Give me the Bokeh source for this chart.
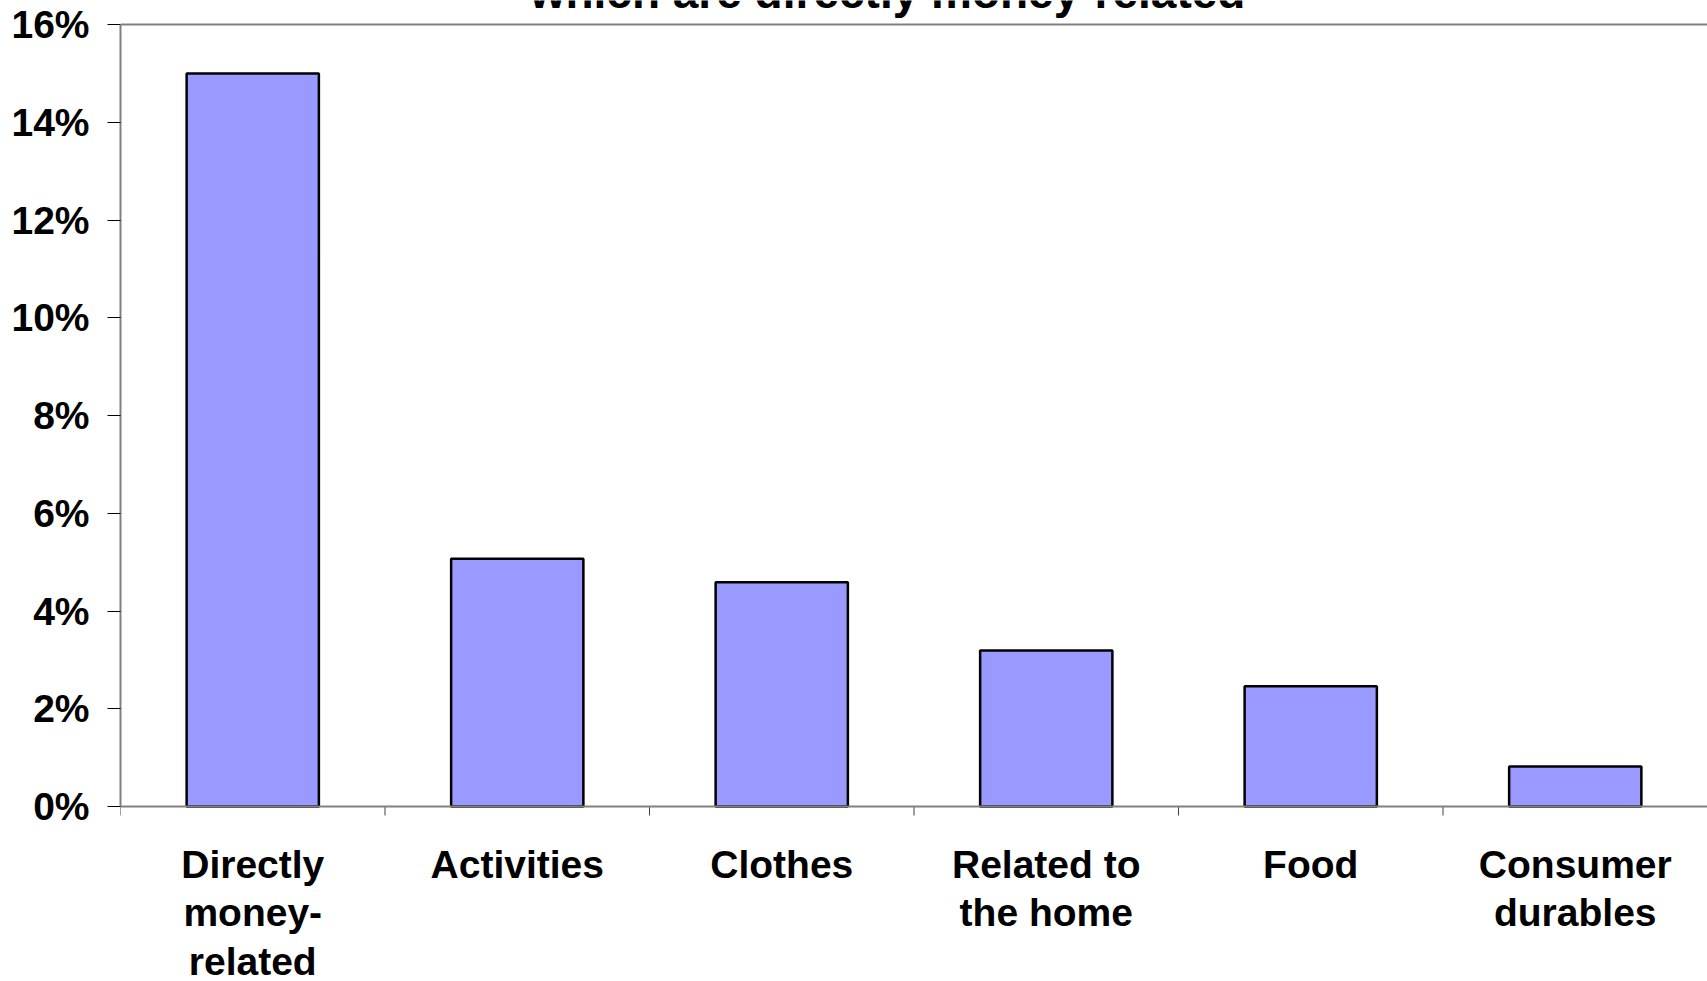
from bokeh.plotting import figure
from bokeh.models import (ColumnDataSource, LinearAxis, FixedTicker,
                          PrintfTickFormatter, Span, Range1d)
from bokeh.core.properties import value
from bokeh.embed import file_html
from bokeh.resources import INLINE

categories = ["Directly money-related", "Activities", "Clothes", "Related to the home",
              "Food", "Consumer durables"]
tick_labels = ["Directly\nmoney-\nrelated", "Activities", "Clothes", "Related to\nthe home",
               "Food", "Consumer\ndurables"]
values = [15.0, 5.07, 4.59, 3.19, 2.46, 0.82]
y_ticks = [0, 2, 4, 6, 8, 10, 12, 14, 16]
title_text = "which are directly money-related"

FONT = "Liberation Sans"
FS = "39px"

W, H = 1707, 981
LEFT = 120
FRAME_TOP_PX = 24       # page y of the 16% line
FRAME_BOTTOM_PX = 806   # page y of the 0% line
PX = (FRAME_BOTTOM_PX - FRAME_TOP_PX) / 16.0   # pixels per 1%
y_start = -(H - FRAME_BOTTOM_PX) / PX
y_end = 16 + FRAME_TOP_PX / PX

source = ColumnDataSource(data=dict(cat=categories, val=values))

p = figure(x_range=categories, y_range=Range1d(y_start, y_end), width=W, height=H,
           output_backend="svg", toolbar_location=None, x_axis_type=None, y_axis_type=None,
           min_border_left=LEFT, min_border_right=0, min_border_top=0, min_border_bottom=0)
p.outline_line_color = None
p.background_fill_color = "white"
p.border_fill_color = "white"

p.ygrid.ticker = FixedTicker(ticks=y_ticks[1:-1])
p.ygrid.grid_line_color = "black"
p.ygrid.grid_line_width = 1
p.xgrid.grid_line_color = None

p.vbar(x="cat", top="val", width=0.5, source=source, fill_color="#9999FF",
       line_color="black", line_width=2.5)

# y axis (line only between 0% and 16%)
yaxis = LinearAxis(ticker=FixedTicker(ticks=y_ticks), formatter=PrintfTickFormatter(format="%d%%"),
                   bounds=(y_ticks[0], y_ticks[-1]))
yaxis.axis_line_color = "#808080"
yaxis.axis_line_width = 2
yaxis.major_tick_line_color = "black"
yaxis.major_tick_out = 13
yaxis.major_tick_in = 0
yaxis.minor_tick_line_color = None
yaxis.major_label_standoff = 18
yaxis.major_label_text_font = FONT
yaxis.major_label_text_font_style = "bold"
yaxis.major_label_text_font_size = FS
yaxis.major_label_text_color = "black"
p.add_layout(yaxis, "left")

# category axis line at 0% and top line at 16%
p.add_layout(Span(location=0, dimension="width", line_color="#808080", line_width=2))
p.add_layout(Span(location=16, dimension="width", line_color="#808080", line_width=2))

# tick marks at the category boundaries, hanging below the axis
bounds = list(range(len(categories) + 1))
tick_len = 9 / PX
p.segment(x0=bounds, x1=bounds, y0=[0] * len(bounds), y1=[-tick_len] * len(bounds),
          line_color="#404040", line_width=1)

# multi-line category labels
first_baseline_px = 57.5
line_step_px = 48.5
lab_cat, lab_y, lab_text = [], [], []
for cat, lab in zip(categories, tick_labels):
    for k, line in enumerate(lab.split("\n")):
        lab_cat.append(cat)
        lab_y.append(-(first_baseline_px + k * line_step_px) / PX)
        lab_text.append(line)
lab_src = ColumnDataSource(data=dict(cat=lab_cat, y=lab_y, text=lab_text))
p.text(x="cat", y="y", text="text", source=lab_src, text_align="center",
       text_baseline="alphabetic", text_font=value(FONT), text_font_style="bold",
       text_font_size=FS, text_color="black")

# title (its upper part lies above the page, as in the original)
p.text(x=[2.9], y=[16 + 33 / PX], text=[title_text], text_align="center",
       text_baseline="alphabetic", text_font=value(FONT), text_font_style="bold",
       text_font_size="46px", text_color="black")

open("out.html", "w").write(file_html(p, INLINE))
